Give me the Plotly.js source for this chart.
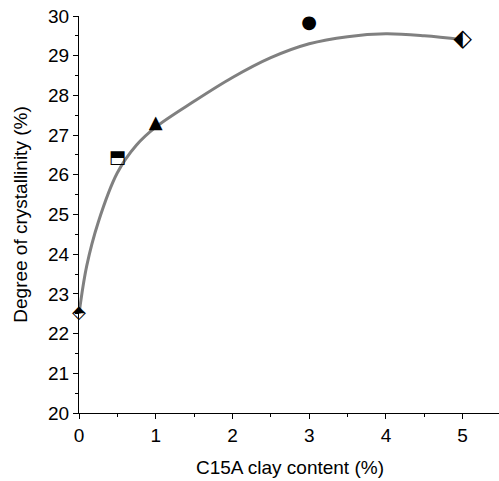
<!DOCTYPE html>
<html>
<head>
<meta charset="utf-8">
<script src="https://cdn.plot.ly/plotly-3.0.1.min.js"></script>
<style>html,body{margin:0;padding:0;overflow:hidden;background:#fff;}#chart{width:502px;height:481px;}</style>
</head>
<body>
<div id="chart"></div>
<script>
// Fitted curve
const fitX = [0, 0.1, 0.25, 0.5, 0.75, 1, 1.5, 2, 2.5, 3, 3.5, 4, 4.5, 5];
const fitY = [22.5, 23.7, 24.8, 26.05, 26.75, 27.2, 27.85, 28.45, 28.95, 29.3, 29.48, 29.55, 29.5, 29.4];
// Measured points
const clay = [0, 0.5, 1, 3, 5];
const crystallinity = [22.5, 26.4, 27.3, 29.8, 29.4];
const glyphs = ['\u2B18', '\u2B12', '\u25B2', '\u25CF', '\u2B16'];
const glyphSizes = [18, 18, 18, 18, 24];

const traces = [
  {x: fitX, y: fitY, mode: 'lines', line: {shape: 'spline', color: '#808080', width: 3}, hoverinfo: 'skip', showlegend: false},
  {x: clay, y: crystallinity, mode: 'text', text: glyphs, textposition: 'middle center',
   textfont: {family: 'DejaVu Sans', size: glyphSizes, color: '#000'}, showlegend: false, cliponaxis: false}
];

const fontSpec = {family: 'Liberation Sans, Arial', size: 19, color: '#000'};
const axisCommon = {
  showline: true, linecolor: '#000', linewidth: 1, mirror: false,
  ticks: 'outside', ticklen: 5, tickwidth: 1, tickcolor: '#000',
  showgrid: false, zeroline: false,
  tickfont: fontSpec
};

const layout = {
  width: 502, height: 481,
  margin: {l: 79, r: 1, t: 16, b: 68},
  paper_bgcolor: '#fff', plot_bgcolor: '#fff',
  xaxis: Object.assign({}, axisCommon, {
    range: [0, 5.5], dtick: 1, tick0: 0,
    minor: {dtick: 0.5, tick0: 0, ticks: 'outside', ticklen: 3, tickcolor: '#000', showgrid: false},
    title: {text: 'C15A clay content (%)', font: fontSpec, standoff: 15}
  }),
  yaxis: Object.assign({}, axisCommon, {
    range: [20, 30], dtick: 1, tick0: 20,
    minor: {dtick: 0.5, tick0: 20, ticks: 'outside', ticklen: 3, tickcolor: '#000', showgrid: false},
    title: {text: 'Degree of crystallinity (%)', font: fontSpec, standoff: 15}
  }),
  showlegend: false
};

Plotly.newPlot('chart', traces, layout, {displayModeBar: false, staticPlot: true});
</script>
</body>
</html>
